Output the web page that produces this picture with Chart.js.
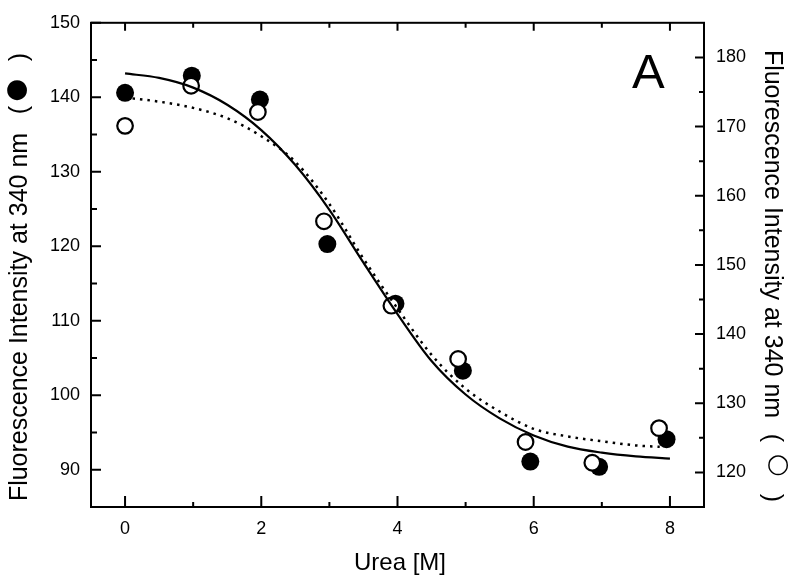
<!DOCTYPE html>
<html>
<head>
<meta charset="utf-8">
<title>Urea denaturation - fluorescence at 340 nm</title>
<script src="https://cdn.jsdelivr.net/npm/chart.js@4.4.1/dist/chart.umd.min.js"></script>
<style>
    html, body { margin: 0; padding: 0; background: #fff; }
    #chartBox { width: 800px; height: 584px; }
</style>
</head>
<body>
<div id="chartBox"><canvas id="ureaChart" width="800" height="584"></canvas></div>
<script>
// DATA
const ureaTicks = [0, 2, 4, 6, 8];
const ureaMinorTicks = [1, 3, 5, 7];
const topTicks = [0, 1, 2, 3, 4, 5, 6, 7, 8];
const leftTicks = [90, 100, 110, 120, 130, 140, 150];
const leftMinorTicks = [95, 105, 115, 125, 135, 145];
const rightTicks = [120, 130, 140, 150, 160, 170, 180];
const rightMinorTicks = [125, 135, 145, 155, 165, 175];

// filled circles, left axis
const filledUrea = [0, 0.98, 1.98, 2.97, 3.97, 4.96, 5.95, 6.96, 7.95];
const filledIntensity = [140.6, 142.9, 139.7, 120.3, 112.3, 103.3, 91.1, 90.4, 94.1];

// open circles, right axis
const openUrea = [0, 0.97, 1.95, 2.92, 3.91, 4.89, 5.88, 6.86, 7.84];
const openIntensity = [170.1, 175.9, 172.1, 156.3, 144.1, 136.4, 124.4, 121.4, 126.4];

// fitted curves
const solidUrea = [0, 0.5, 1, 1.5, 2, 2.5, 3, 3.5, 4, 4.5, 5, 5.5, 6, 6.5, 7, 7.5, 8];
const solidFit = [143.2, 142.6, 141.3, 139.0, 135.6, 130.9, 124.9, 117.8, 110.9, 104.6, 100.1, 96.9, 94.6, 93.1, 92.3, 91.8, 91.5];
const dottedUrea = [0, 0.5, 1, 1.5, 2, 2.5, 3, 3.5, 4, 4.5, 5, 5.5, 6, 6.5, 7, 7.5, 7.85];
const dottedFit = [174.2, 173.6, 172.7, 171.2, 168.6, 164.9, 158.8, 150.9, 143.7, 137.0, 132.1, 128.8, 126.3, 125.2, 124.5, 123.9, 123.7];

const FONT = "'Liberation Sans', Arial, Helvetica, sans-serif";

function toPoints(xs, ys) {
    return xs.map((x, i) => ({ x: x, y: ys[i] }));
}

function fixedTicks(values) {
    return function(scale) {
        scale.ticks = values.map(v => ({ value: v }));
    };
}

// frame, inward ticks and titles
const decorPlugin = {
    id: 'decor',
    afterDraw(chart) {
        const ctx = chart.ctx;
        const a = chart.chartArea;
        const xs = chart.scales.x;
        const yl = chart.scales.y;
        const yr = chart.scales.y2;

        ctx.save();
        ctx.strokeStyle = '#000';
        ctx.lineWidth = 2;
        ctx.strokeRect(a.left, a.top, a.right - a.left, a.bottom - a.top);

        ctx.beginPath();
        ureaTicks.forEach(v => {
            const px = xs.getPixelForValue(v);
            ctx.moveTo(px, a.bottom); ctx.lineTo(px, a.bottom - 11);
        });
        ureaMinorTicks.forEach(v => {
            const px = xs.getPixelForValue(v);
            ctx.moveTo(px, a.bottom); ctx.lineTo(px, a.bottom - 5);
        });
        topTicks.forEach(v => {
            const px = xs.getPixelForValue(v);
            ctx.moveTo(px, a.top); ctx.lineTo(px, a.top + (v % 2 === 0 ? 8 : 5));
        });
        leftTicks.forEach(v => {
            const py = yl.getPixelForValue(v);
            ctx.moveTo(a.left, py); ctx.lineTo(a.left + 10, py);
        });
        leftMinorTicks.forEach(v => {
            const py = yl.getPixelForValue(v);
            ctx.moveTo(a.left, py); ctx.lineTo(a.left + 6, py);
        });
        rightTicks.forEach(v => {
            const py = yr.getPixelForValue(v);
            ctx.moveTo(a.right, py); ctx.lineTo(a.right - 9, py);
        });
        rightMinorTicks.forEach(v => {
            const py = yr.getPixelForValue(v);
            ctx.moveTo(a.right, py); ctx.lineTo(a.right - 5, py);
        });
        ctx.stroke();

        ctx.fillStyle = '#000';

        // panel letter
        ctx.font = '49px ' + FONT;
        ctx.textAlign = 'left';
        ctx.textBaseline = 'alphabetic';
        ctx.fillText('A', 632, 88);

        // x title
        ctx.font = '24px ' + FONT;
        ctx.textAlign = 'center';
        ctx.fillText('Urea [M]', 400, 570);

        // left title (reads bottom to top)
        ctx.save();
        ctx.translate(27, 0);
        ctx.rotate(-Math.PI / 2);
        ctx.font = '25px ' + FONT;
        ctx.textAlign = 'center';
        ctx.fillText('Fluorescence Intensity at 340 nm', -317, 0);
        ctx.fillText('(', -110, 0);
        ctx.fillText(')', -57, 0);
        ctx.restore();
        ctx.font = '26px DejaVu Sans';
        ctx.textAlign = 'center';
        ctx.textBaseline = 'middle';
        ctx.fillText('\u25CF', 17, 90);

        // right title (reads top to bottom)
        ctx.save();
        ctx.translate(765, 0);
        ctx.rotate(Math.PI / 2);
        ctx.font = '25px ' + FONT;
        ctx.textAlign = 'center';
        ctx.textBaseline = 'alphabetic';
        ctx.fillText('Fluorescence Intensity at 340 nm', 234, 0);
        ctx.fillText('(', 438, 0);
        ctx.fillText(')', 498, 0);
        ctx.restore();
        ctx.font = '26px DejaVu Sans';
        ctx.textAlign = 'center';
        ctx.textBaseline = 'middle';
        ctx.fillText('\u25CB', 778, 465);

        ctx.restore();
    }
};

function drawChart() {
    const ctx = document.getElementById('ureaChart').getContext('2d');
    const tickFont = { family: FONT, size: 18 };

    new Chart(ctx, {
        type: 'scatter',
        data: {
            datasets: [
                {
                    label: 'fit (filled)',
                    data: toPoints(solidUrea, solidFit),
                    yAxisID: 'y',
                    showLine: true,
                    borderColor: '#000',
                    borderWidth: 2.2,
                    pointRadius: 0,
                    cubicInterpolationMode: 'monotone',
                    order: 0
                },
                {
                    label: 'fit (open)',
                    data: toPoints(dottedUrea, dottedFit),
                    yAxisID: 'y2',
                    showLine: true,
                    borderColor: '#000',
                    borderWidth: 2.5,
                    borderDash: [2.5, 5],
                    pointRadius: 0,
                    cubicInterpolationMode: 'monotone',
                    order: 1
                },
                {
                    label: 'open',
                    data: toPoints(openUrea, openIntensity),
                    yAxisID: 'y2',
                    pointRadius: 7.8,
                    pointBorderWidth: 2.2,
                    pointBackgroundColor: '#fff',
                    pointBorderColor: '#000',
                    order: 2
                },
                {
                    label: 'filled',
                    data: toPoints(filledUrea, filledIntensity),
                    yAxisID: 'y',
                    pointRadius: 9,
                    pointBorderWidth: 0,
                    pointBackgroundColor: '#000',
                    pointBorderColor: '#000',
                    order: 3
                }
            ]
        },
        options: {
            responsive: false,
            animation: false,
            devicePixelRatio: 1,
            layout: { padding: { top: 19, left: 0, right: 0, bottom: 0 } },
            plugins: { legend: { display: false }, tooltip: { enabled: false } },
            scales: {
                x: {
                    type: 'linear',
                    position: 'bottom',
                    min: -0.5,
                    max: 8.5,
                    grid: { display: false, drawTicks: false },
                    border: { display: false },
                    ticks: { color: '#000', font: tickFont, padding: 11, maxRotation: 0 },
                    afterBuildTicks: fixedTicks(ureaTicks),
                    afterFit: s => { s.height = 77; }
                },
                y: {
                    type: 'linear',
                    position: 'left',
                    min: 85,
                    max: 150,
                    grid: { display: false, drawTicks: false },
                    border: { display: false },
                    ticks: { color: '#000', font: tickFont, padding: 11 },
                    afterBuildTicks: fixedTicks(leftTicks),
                    afterFit: s => { s.width = 91; }
                },
                y2: {
                    type: 'linear',
                    position: 'right',
                    min: 115,
                    max: 185,
                    grid: { display: false, drawTicks: false },
                    border: { display: false },
                    ticks: { color: '#000', font: tickFont, padding: 12 },
                    afterBuildTicks: fixedTicks(rightTicks),
                    afterFit: s => { s.width = 96; }
                }
            }
        },
        plugins: [decorPlugin]
    });
}

document.addEventListener('DOMContentLoaded', function() {
    drawChart();
});
</script>
</body>
</html>
